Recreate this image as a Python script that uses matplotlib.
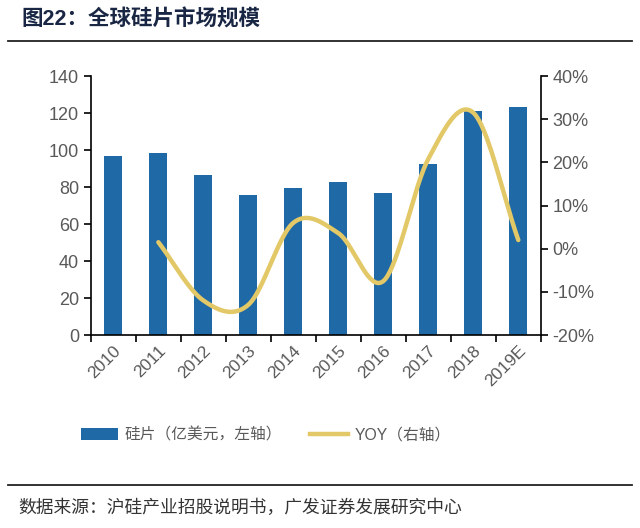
import numpy as np
import matplotlib
matplotlib.use("Agg")
import matplotlib.pyplot as plt
from matplotlib.lines import Line2D
from matplotlib.patches import Patch

plt.rcParams['font.family'] = ['Liberation Sans', 'Noto Sans CJK SC', 'DejaVu Sans']

years = ['2010', '2011', '2012', '2013', '2014', '2015', '2016', '2017', '2018', '2019E']
wafer = [97, 98.5, 86.5, 75.5, 79.5, 82.5, 76.5, 92.5, 121, 123.5]
yoy = [None, 1.5, -12.0, -13.0, 6.0, 3.6, -7.5, 20.8, 31.5, 2.0]

title = '图22：全球硅片市场规模'
source = '数据来源：沪硅产业招股说明书，广发证券发展研究中心'
bar_label = '硅片（亿美元，左轴）'
line_label = 'YOY（右轴）'

BLUE = '#1F69A6'
GOLD = '#E3C867'
GRAY = '#595959'

fig = plt.figure(figsize=(6.4, 5.28), dpi=100)
ax = fig.add_axes([0.142, 0.3655, 0.703, 0.4905])
ax2 = ax.twinx()

x = np.arange(len(years))
ax.bar(x, wafer, width=0.4, color=BLUE, zorder=2)
ax.set_xlim(-0.5, len(years) - 0.5)
ax.set_ylim(0, 140)
ax.set_yticks(range(0, 141, 20))
ax.set_xticks(x)
ax.set_xticklabels(years, rotation=45, ha='right', rotation_mode='anchor')
ax.set_xticks(np.arange(-0.5, len(years), 1.0), minor=True)
ax.tick_params(axis='x', which='major', length=0, labelsize=12.5, colors=GRAY, pad=6)
ax.tick_params(axis='x', which='minor', length=5, width=1.2, color='black', direction='out')
ax.tick_params(axis='y', length=5, width=1.2, color='black', labelsize=13, labelcolor=GRAY, direction='out')

# Smoothed line (Catmull-Rom, like Excel smoothing)
px = np.array([i for i, v in enumerate(yoy) if v is not None], dtype=float)
py = np.array([v for v in yoy if v is not None], dtype=float)
P = np.column_stack([px, py])
Pext = np.vstack([P[0] - (P[1] - P[0]), P, P[-1] + (P[-1] - P[-2])])
pts = []
tt = np.linspace(0, 1, 40)
for i in range(1, len(Pext) - 2):
    p0, p1, p2, p3 = Pext[i - 1], Pext[i], Pext[i + 1], Pext[i + 2]
    for t in tt[:-1] if i < len(Pext) - 3 else tt:
        t2, t3 = t * t, t * t * t
        pt = 0.5 * ((2 * p1) + (-p0 + p2) * t + (2 * p0 - 5 * p1 + 4 * p2 - p3) * t2 + (-p0 + 3 * p1 - 3 * p2 + p3) * t3)
        pts.append(pt)
pts = np.array(pts)
ax2.plot(pts[:, 0], pts[:, 1], color=GOLD, lw=3.2, solid_capstyle='round', zorder=3)
ax2.set_ylim(-20, 40)
ax2.set_yticks(range(-20, 41, 10))
ax2.set_yticklabels([f'{v}%' for v in range(-20, 41, 10)])
ax2.tick_params(axis='y', length=5, width=1.2, color='black', labelsize=13, labelcolor=GRAY, direction='out')

for a in (ax, ax2):
    a.spines['top'].set_visible(False)
    for s in ('left', 'right', 'bottom'):
        a.spines[s].set_linewidth(1.2)
        a.spines[s].set_color('black')
ax.spines['right'].set_visible(False)
ax2.spines['left'].set_visible(False)
ax2.spines['bottom'].set_visible(False)

handles = [Patch(facecolor=BLUE, edgecolor='none'), Line2D([0], [0], color=GOLD, lw=3.2)]
leg = fig.legend(handles, [bar_label, line_label], loc='center left', bbox_to_anchor=(0.104, 0.176),
                 ncol=2, frameon=False, handlelength=2.4, handleheight=0.8,
                 columnspacing=1.8, handletextpad=0.4,
                 prop={'family': ['Liberation Sans', 'Noto Sans CJK SC'], 'size': 11.3})
for t in leg.get_texts():
    t.set_color(GRAY)

fig.text(0.034, 0.962, title, fontsize=15.5, fontweight='bold', color='#1A2744', va='center',
         family=['Liberation Sans', 'Noto Sans CJK SC'])
fig.add_artist(Line2D([0.013, 0.987], [0.923, 0.923], color='#222222', lw=1.3))
fig.add_artist(Line2D([0.013, 0.987], [0.081, 0.081], color='#222222', lw=1.3))
fig.text(0.028, 0.038, source, fontsize=12.8, color='#333333', va='center',
         family=['Noto Sans CJK SC', 'DejaVu Sans'])

fig.savefig('out.png', dpi=100)
